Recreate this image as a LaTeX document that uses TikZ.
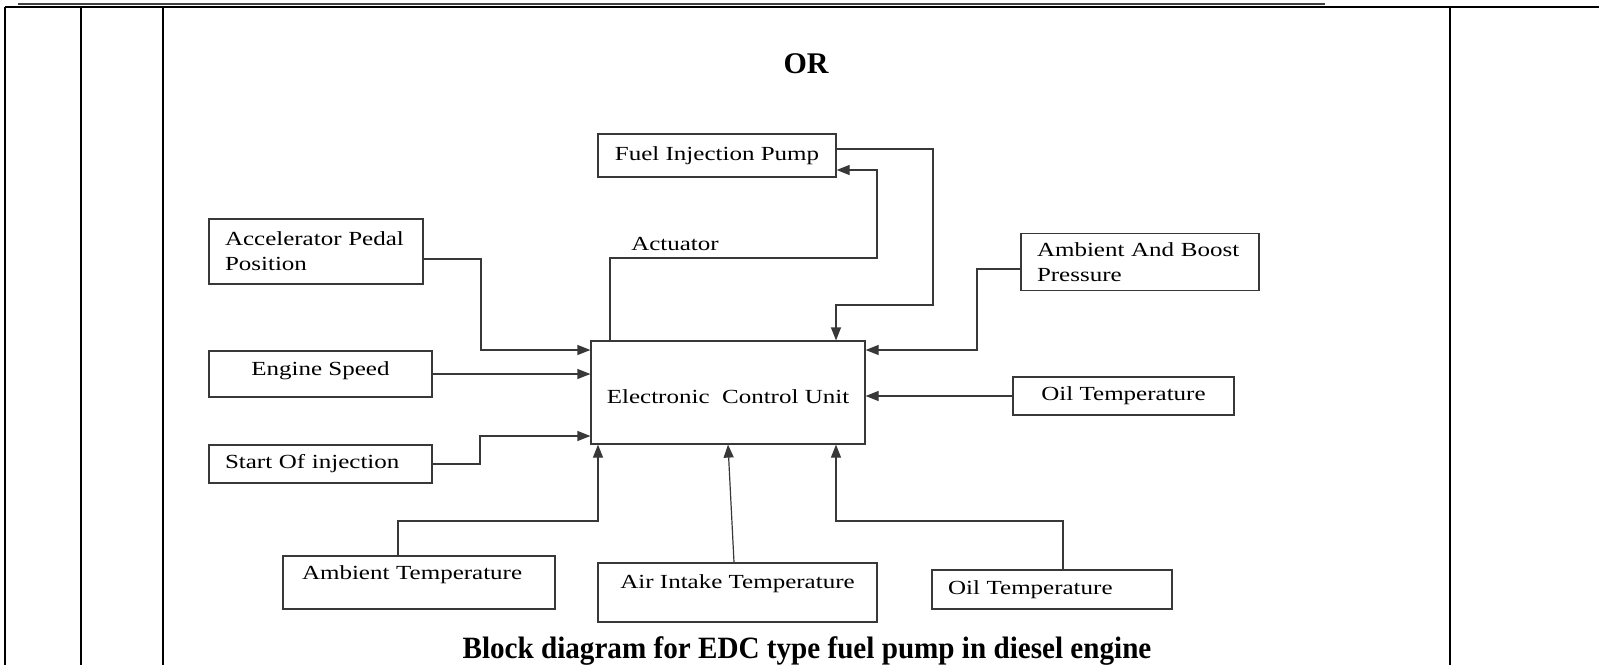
\documentclass[tikz,border=0pt]{standalone}
\usepackage{fontspec}
\setmainfont{Liberation Serif}
\newfontfamily\blkfont[FakeStretch=1.25]{Liberation Serif}
\newfontfamily\capfont[FakeStretch=0.94]{Liberation Serif}
\usepackage{tikz}
\usetikzlibrary{arrows.meta,positioning,calc}
\definecolor{wireGr}{HTML}{383838}

\begin{document}
\begin{tikzpicture}[x=0.5pt,y=-0.5pt,
   blk/.style={draw=wireGr, line width=0.6pt, inner sep=0pt,
               font=\blkfont\fontsize{10}{12.5}\selectfont},
   lblk/.style={blk, align=left},
   wire/.style={draw=wireGr, line width=0.6pt},
   arr/.style={wire, -{Triangle[length=6.5pt,width=5pt]}},
   rule/.style={draw=black, line width=1.2pt}
]
\useasboundingbox (0,0) rectangle (1599,665);
\draw[black!75, line width=1pt] (18,3.5) -- (1325,3.5);
\draw[rule] (5,7) -- (1599,7);
\foreach \x in {5,81,163,1450}{
  \draw[rule] (\x,7) -- (\x,665);
}
\node[font=\fontsize{15}{18}\selectfont\bfseries] (or) at (806,64) {OR};
\node[blk, minimum width=119pt, minimum height=21.5pt] (fip) at (717,155.5) {Fuel Injection Pump};
\node[lblk, text width=91pt, inner xsep=8pt, minimum height=32.5pt] (acc) at (316,251.5)
  {Accelerator Pedal\\Position};
\node[blk, minimum width=111.5pt, minimum height=23pt, text depth=5pt] (eng) at (320.5,374)
  {Engine Speed};
\node[lblk, text width=95.5pt, inner xsep=8pt, minimum height=19pt] (soi) at (320.5,464)
  {Start Of injection};
\node[blk, minimum width=137pt, minimum height=51.5pt, text height=11pt] (ecu) at (728,392.5)
  {Electronic\ \ Control Unit};
\node[lblk, text width=103pt, inner xsep=8pt, minimum height=28.5pt] (abp) at (1140,262)
  {Ambient And Boost\\Pressure};
\node[blk, minimum width=110.5pt, minimum height=19pt] (oilr) at (1123.5,396) {Oil Temperature};
\node[lblk, text width=117pt, inner xsep=9.5pt, text height=11.8pt, text depth=14.7pt] (ambt)
  at (419,582.5) {Ambient Temperature};
\node[blk, minimum width=139.5pt, text height=12.8pt, text depth=16.7pt] (air)
  at (737.5,592.5) {Air Intake Temperature};
\node[lblk, text width=104pt, inner xsep=8pt, minimum height=19.5pt] (oilb) at (1052,589.5)
  {Oil Temperature};
\node[font=\blkfont\fontsize{10}{12.5}\selectfont] (act) at (675,244) {Actuator};
\node[font=\capfont\fontsize{15.5}{18}\selectfont\bfseries] (cap) at (807,651)
  {Block diagram for EDC type fuel pump in diesel engine};
\draw[arr] ([yshift=3.25pt]fip.east) -| (933,305) -| ([xshift=54pt]ecu.north);
\draw[arr] ([xshift=-59pt]ecu.north) |- (877,258) |- ([yshift=-7.25pt]fip.east);
\draw[arr] ([yshift=-3.75pt]acc.east) -| (481,350) -- ([yshift=21.25pt]ecu.west);
\draw[arr] (eng.east) -- (eng.east -| ecu.west);
\draw[arr] (soi.east) -| (480,436) -- ([yshift=-21.75pt]ecu.west);
\draw[arr] ([yshift=-3.5pt]abp.west) -| (977,350) -- ([yshift=21.25pt]ecu.east);
\draw[arr] (oilr.west) -- (oilr.west -| ecu.east);
\draw[arr] ([xshift=-10.5pt]ambt.north) |- (598,521) -- ([xshift=-65pt]ecu.south);
\draw[arr] ([xshift=-1.75pt]air.north) -- (ecu.south);
\draw[arr] ([xshift=5.5pt]oilb.north) |- (836,521) -- ([xshift=54pt]ecu.south);
\end{tikzpicture}
\end{document}
